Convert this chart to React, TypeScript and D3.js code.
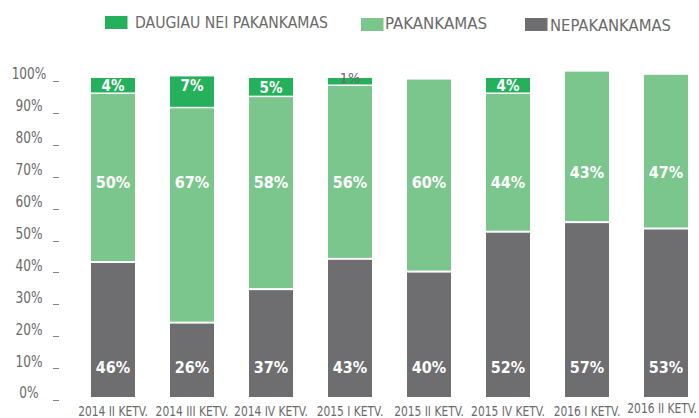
import React from "react";
import * as d3 from "d3";

const categories = [
    "2014 II KETV.", "2014 III KETV.", "2014 IV KETV.", "2015 I KETV.",
    "2015 II KETV.", "2015 IV KETV.", "2016 I KETV.", "2016 II KETV.",
];

// percentages printed on the bars
const nepakankamasLabels = [46, 26, 37, 43, 40, 52, 57, 53];
const pakankamasLabels = [50, 67, 58, 56, 60, 44, 43, 47];
const daugiauLabels: (number | null)[] = [4, 7, 5, 1, null, 4, null, null];

// segment heights as they are drawn in the source (they don't follow the printed numbers exactly)
const nepakankamasBars = [42, 23, 33.5, 43, 39, 51.5, 54.5, 52.5];
const pakankamasBars = [53, 67.5, 60.5, 54.5, 60.5, 43.5, 47.5, 48.5];
const daugiauBars = [5, 10, 6, 2.5, 0, 5, 0, 0];

const yTicks = [0, 10, 20, 30, 40, 50, 60, 70, 80, 90, 100];

const FONT = "'DejaVu Sans Condensed', 'Liberation Sans Narrow', Roboto, sans-serif";
const DARK = "#25b05c";
const LIGHT = "#7bc68d";
const GRAY = "#6e6d6f";
const TEXT = "#6a6a6a";

const keys = ["nep", "pak", "dau"];
const colors: Record<string, string> = { nep: GRAY, pak: LIGHT, dau: DARK };
const gaps: Record<string, number> = { nep: 0, pak: 2, dau: 1.5 };

const legend = [
    { name: "DAUGIAU NEI PAKANKAMAS", color: DARK, sx: 105, sy: 16, tx: 135, base: 27.7, w: 193 },
    { name: "PAKANKAMAS", color: LIGHT, sx: 361, sy: 18, tx: 385, base: 29.2, w: 102 },
    { name: "NEPAKANKAMAS", color: GRAY, sx: 525, sy: 18, tx: 550, base: 30.7, w: 121 },
];

const W = 699;
const H = 418;

export default function App() {
    const rows = categories.map((c, i) => ({
        cat: c, nep: nepakankamasBars[i], pak: pakankamasBars[i], dau: daugiauBars[i],
    }));
    const stack = d3.stack<any>().keys(keys);
    const series = stack(rows);

    const x = d3.scaleBand<string>()
        .domain(categories)
        .range([73.5, 705.5])
        .paddingInner(0.443)
        .paddingOuter(0.2215);
    const y = d3.scaleLinear().domain([0, 100]).range([397, 78]);
    const bw = x.bandwidth();

    return (
        <svg width={W} height={H} style={{ position: "absolute", left: 0, top: 0, fontFamily: FONT }}>
            {/* legend */}
            {legend.map(l => (
                <g key={l.name}>
                    <rect x={l.sx} y={l.sy} width={22.5} height={13} fill={l.color} />
                    <text x={l.tx} y={l.base} fontSize={15.5} fill={TEXT}
                        textLength={l.w} lengthAdjust="spacingAndGlyphs">{l.name}</text>
                </g>
            ))}

            {/* y axis */}
            {yTicks.map(t => (
                <g key={t}>
                    <text x={29} y={y(t) + 1.5} textAnchor="middle" fontSize={15} fill={TEXT}
                        transform={`translate(29,0) scale(0.9,1) translate(-29,0)`}>{t}%</text>
                    <line x1={53} x2={59} y1={Math.round(y(t) + 3) + 0.5} y2={Math.round(y(t) + 3) + 0.5}
                        stroke="#888" strokeWidth={1} />
                </g>
            ))}

            {/* bars */}
            {series.map(s => (
                <g key={s.key} fill={colors[s.key]}>
                    {s.map((d, i) => {
                        if (d[1] - d[0] <= 0) return null;
                        const top = y(d[1]);
                        const h = y(d[0]) - top - gaps[s.key];
                        return <rect key={i} x={x(categories[i])} y={top} width={bw} height={h} />;
                    })}
                </g>
            ))}

            {/* value labels */}
            {categories.map((c, i) => {
                const cx = (x(c) as number) + bw / 2;
                const total = nepakankamasBars[i] + pakankamasBars[i] + daugiauBars[i];
                const pakLevel = total > 100.5 ? 70.5 : 67.5;
                const dauTop = y(total);
                const dauBottom = y(total - daugiauBars[i]);
                const dl = daugiauLabels[i];
                const big = dauBottom - dauTop >= 10;
                return (
                    <g key={c} textAnchor="middle" fontWeight="bold">
                        <text x={cx} y={y(9.4) + 6} fontSize={16} fill="#fff">{nepakankamasLabels[i]}%</text>
                        <text x={cx} y={y(pakLevel) + 6} fontSize={16} fill="#fff">{pakankamasLabels[i]}%</text>
                        {dl !== null && (big
                            ? <text x={cx} y={Math.min((dauTop + dauBottom) / 2, dauTop + 9) + 5.5}
                                fontSize={15} fill="#fff">{dl}%</text>
                            : <text x={cx} y={dauTop + 4.5} fontSize={14.5} fontWeight="normal" fill={TEXT}>{dl}%</text>)}
                    </g>
                );
            })}

            {/* x axis labels; the last one is kept inside the right edge */}
            {categories.map((c, i) => {
                const last = i === categories.length - 1;
                const cx = last ? W - 2 : (x(c) as number) + bw / 2;
                const base = last ? 413 : 416;
                return (
                    <text key={c} x={0} y={0} textAnchor={last ? "end" : "middle"} fontSize={13.5} fill={TEXT}
                        transform={`translate(${cx},${base}) scale(0.88,1)`}>{c}</text>
                );
            })}
        </svg>
    );
}
